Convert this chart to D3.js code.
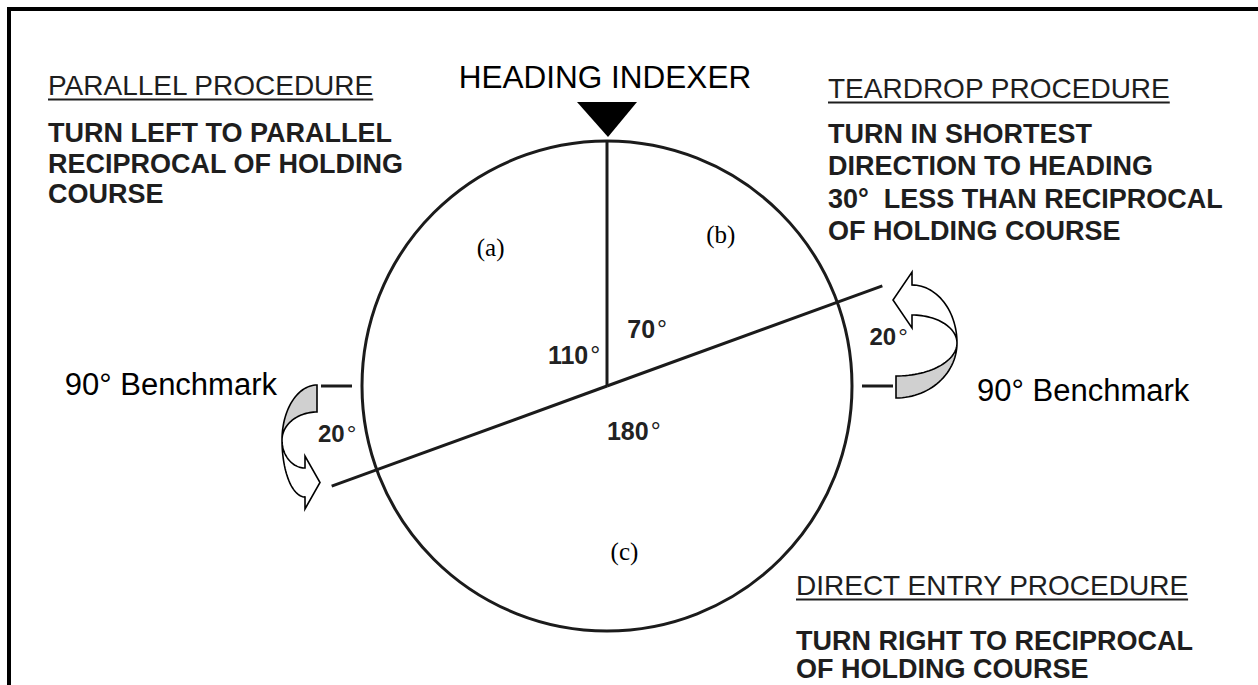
<!DOCTYPE html>
<html>
<head>
<meta charset="utf-8">
<script src="https://cdn.jsdelivr.net/npm/d3@7"></script>
<style>
body { margin: 0; background: #fff; }
svg { display: block; }
</style>
</head>
<body>
<script>
// sectors, clockwise from the heading indexer
var sectorAngles = [70, 180, 110];
var sectorLabels = ["70°", "180°", "110°"];
var regionLabels = ["(b)", "(c)", "(a)"];

// benchmarks and the 20 degree offsets to them
var benchmarkAngles = [90, 270];
var benchmarkLabels = ["90° Benchmark", "90° Benchmark"];
var offsetLabels = ["20°", "20°"];

var indexerLabel = "HEADING INDEXER";

var parallelTitle = "PARALLEL PROCEDURE";
var parallelLines = ["TURN LEFT TO PARALLEL", "RECIPROCAL OF HOLDING", "COURSE"];

var teardropTitle = "TEARDROP PROCEDURE";
var teardropLines = ["TURN IN SHORTEST", "DIRECTION TO HEADING",
					 "30°  LESS THAN RECIPROCAL", "OF HOLDING COURSE"];

var directTitle = "DIRECT ENTRY PROCEDURE";
var directLines = ["TURN RIGHT TO RECIPROCAL", "OF HOLDING COURSE"];

var width = 1258,
	height = 685;

var cx = 607, cy = 386, r = 245;
var ink = "#1b1b1b";
var sans = "Arial, 'Liberation Sans', Helvetica, sans-serif";

var svg = d3.select("body").append("svg")
	.attr("width", width)
	.attr("height", height);

// frame (only top and left edges are in view)
svg.append("rect")
	.attr("x", 9)
	.attr("y", 9)
	.attr("width", 1400)
	.attr("height", 800)
	.attr("fill", "none")
	.attr("stroke", "#000")
	.attr("stroke-width", 4);

var deg = d3.scaleLinear().domain([0, 360]).range([0, 2 * Math.PI]);

function polar(angle, dist) {
	var a = deg(angle);
	return [cx + dist * Math.sin(a), cy - dist * Math.cos(a)];
}

// sector boundaries: the indexer ray stops at the circle,
// the entry line runs on past it
var boundaries = [];
var acc = 0;
for(var i = 0; i < sectorAngles.length; i++) {
	boundaries.push({ angle: acc, len: i == 0 ? r : r + 48 });
	acc += sectorAngles[i];
}

svg.append("circle")
	.attr("cx", cx)
	.attr("cy", cy)
	.attr("r", r)
	.attr("fill", "none")
	.attr("stroke", ink)
	.attr("stroke-width", 3);

svg.append("g")
	.attr("class", "rays")
	.selectAll("line")
	.data(boundaries)
	.enter().append("line")
	.attr("x1", cx)
	.attr("y1", cy)
	.attr("x2", function(d) { return polar(d.angle, d.len)[0]; })
	.attr("y2", function(d) { return polar(d.angle, d.len)[1]; })
	.attr("stroke", ink)
	.attr("stroke-width", 3);

// benchmark ticks
svg.append("g")
	.attr("class", "ticks")
	.selectAll("line")
	.data(benchmarkAngles)
	.enter().append("line")
	.attr("x1", function(d) { return polar(d, r + 10)[0]; })
	.attr("y1", function(d) { return polar(d, r + 10)[1]; })
	.attr("x2", function(d) { return polar(d, r + 41)[0]; })
	.attr("y2", function(d) { return polar(d, r + 41)[1]; })
	.attr("stroke", ink)
	.attr("stroke-width", 3);

// heading indexer
svg.append("path")
	.attr("d", "M" + (cx - 30) + "," + 102 + "L" + (cx + 30) + "," + 102 + "L" + (cx + 1) + "," + 137 + "Z")
	.attr("fill", "#000");

svg.append("text")
	.attr("x", cx - 2)
	.attr("y", 88)
	.attr("text-anchor", "middle")
	.attr("font-family", sans)
	.attr("font-size", 31.5)
	.attr("fill", "#000")
	.text(indexerLabel);

// degree labels: split the number from the degree sign
function degreeText(sel, label) {
	sel.text(label.slice(0, -1));
	sel.append("tspan")
		.attr("dx", 2)
		.attr("font-weight", "normal")
		.text("°");
}

var sectorLabelAt = [[35, 70], [149, 52], [313, 45]];

svg.append("g")
	.selectAll("text")
	.data(sectorLabels)
	.enter().append("text")
	.attr("x", function(d, i) { return polar(sectorLabelAt[i][0], sectorLabelAt[i][1])[0]; })
	.attr("y", function(d, i) { return polar(sectorLabelAt[i][0], sectorLabelAt[i][1])[1]; })
	.attr("dy", "0.36em")
	.attr("text-anchor", "middle")
	.attr("font-family", sans)
	.attr("font-weight", "bold")
	.attr("font-size", 25)
	.attr("fill", "#222")
	.each(function(d) { degreeText(d3.select(this), d); });

var regionLabelAt = [[37, 189], [174, 167], [320, 181]];

svg.append("g")
	.selectAll("text")
	.data(regionLabels)
	.enter().append("text")
	.attr("x", function(d, i) { return polar(regionLabelAt[i][0], regionLabelAt[i][1])[0]; })
	.attr("y", function(d, i) { return polar(regionLabelAt[i][0], regionLabelAt[i][1])[1]; })
	.attr("dy", "0.33em")
	.attr("text-anchor", "middle")
	.attr("font-family", "'Times New Roman', 'Liberation Serif', serif")
	.attr("font-size", 25)
	.attr("fill", "#000")
	.text(function(d) { return d; });

// 20 degree offsets between the entry line and each benchmark
var offsetDist = [286, 274];

svg.append("g")
	.selectAll("text")
	.data(offsetLabels)
	.enter().append("text")
	.attr("x", function(d, i) { return polar(benchmarkAngles[i] - 10, offsetDist[i])[0]; })
	.attr("y", function(d, i) { return polar(benchmarkAngles[i] - 10, offsetDist[i])[1]; })
	.attr("dy", "0.36em")
	.attr("text-anchor", "middle")
	.attr("font-family", sans)
	.attr("font-weight", "bold")
	.attr("font-size", 24)
	.attr("fill", "#222")
	.each(function(d) { degreeText(d3.select(this), d); });

// benchmark labels
svg.append("text")
	.attr("x", 277)
	.attr("y", 395)
	.attr("text-anchor", "end")
	.attr("font-family", sans)
	.attr("font-size", 31)
	.attr("fill", "#000")
	.text(benchmarkLabels[1]);

svg.append("text")
	.attr("x", 977)
	.attr("y", 401)
	.attr("font-family", sans)
	.attr("font-size", 31)
	.attr("fill", "#000")
	.text(benchmarkLabels[0]);

// curled turn arrows: a grey underside that twists into a white arrow
function curl(p) {
	var n = 30;
	var line = d3.line();
	var grey = [], white = [];
	var i, t;

	for(i = 0; i <= n; i++) {
		t = i / n * Math.PI / 2;
		grey.push([p.cx + p.sx * p.rx * Math.sin(t), p.cy - p.sy * p.ro * Math.cos(t)]);
	}
	for(i = n; i >= 0; i--) {
		t = i / n * Math.PI / 2;
		grey.push([p.cx + p.sx * p.rx * Math.sin(t), p.cy - p.sy * p.ri * Math.cos(t)]);
	}

	var wcx = p.cx + p.sx * p.wOff,
		wrx = p.rx - p.wOff;

	for(i = 0; i <= n; i++) {
		t = i / n * Math.PI / 2;
		white.push([wcx + p.sx * wrx * Math.cos(t), p.cy + p.sy * p.wro * Math.sin(t)]);
	}
	white.push([wcx, p.cy + p.sy * (p.wro + p.headOver)]);
	white.push([wcx - p.sx * p.headLen, p.cy + p.sy * (p.wro + p.wri) / 2]);
	white.push([wcx, p.cy + p.sy * (p.wri - p.headOver)]);
	for(i = n; i >= 0; i--) {
		t = i / n * Math.PI / 2;
		white.push([wcx + p.sx * wrx * Math.cos(t), p.cy + p.sy * p.wri * Math.sin(t)]);
	}

	var g = svg.append("g")
		.attr("stroke", "#000")
		.attr("stroke-width", 1.6)
		.attr("stroke-linejoin", "miter");

	g.append("path")
		.attr("d", line(grey) + "Z")
		.attr("fill", "#d0d0d0");

	g.append("path")
		.attr("d", line(white) + "Z")
		.attr("fill", "#fff");
}

curl({ cx: cx + 289, cy: cy - 43, sx: 1, sy: -1, rx: 61, ro: 55, ri: 33,
	   wOff: 16, wro: 58, wri: 28, headOver: 13, headLen: 19 });

curl({ cx: cx - 290, cy: cy + 54, sx: -1, sy: 1, rx: 35, ro: 55, ri: 28,
	   wOff: 12, wro: 57, wri: 28, headOver: 12, headLen: 15 });

// procedure text blocks
function block(x, titleY, title, lines, firstY, step) {
	var g = svg.append("g")
		.attr("font-family", sans)
		.attr("fill", "#1e1e1e");

	var t = g.append("text")
		.attr("x", x)
		.attr("y", titleY)
		.attr("font-size", 28)
		.text(title);

	var w = t.node().getComputedTextLength();

	g.append("line")
		.attr("x1", x)
		.attr("x2", x + w)
		.attr("y1", titleY + 4.5)
		.attr("y2", titleY + 4.5)
		.attr("stroke", "#1e1e1e")
		.attr("stroke-width", 2.2);

	g.selectAll(".body")
		.data(lines)
		.enter().append("text")
		.attr("class", "body")
		.attr("x", x)
		.attr("y", function(d, i) { return firstY + i * step; })
		.attr("font-size", 27)
		.attr("font-weight", "bold")
		.style("white-space", "pre")
		.text(function(d) { return d; });
}

block(48, 95, parallelTitle, parallelLines, 142, 30.5);
block(828, 98, teardropTitle, teardropLines, 143, 32.3);
block(796, 595, directTitle, directLines, 650, 28);
</script>
</body>
</html>
